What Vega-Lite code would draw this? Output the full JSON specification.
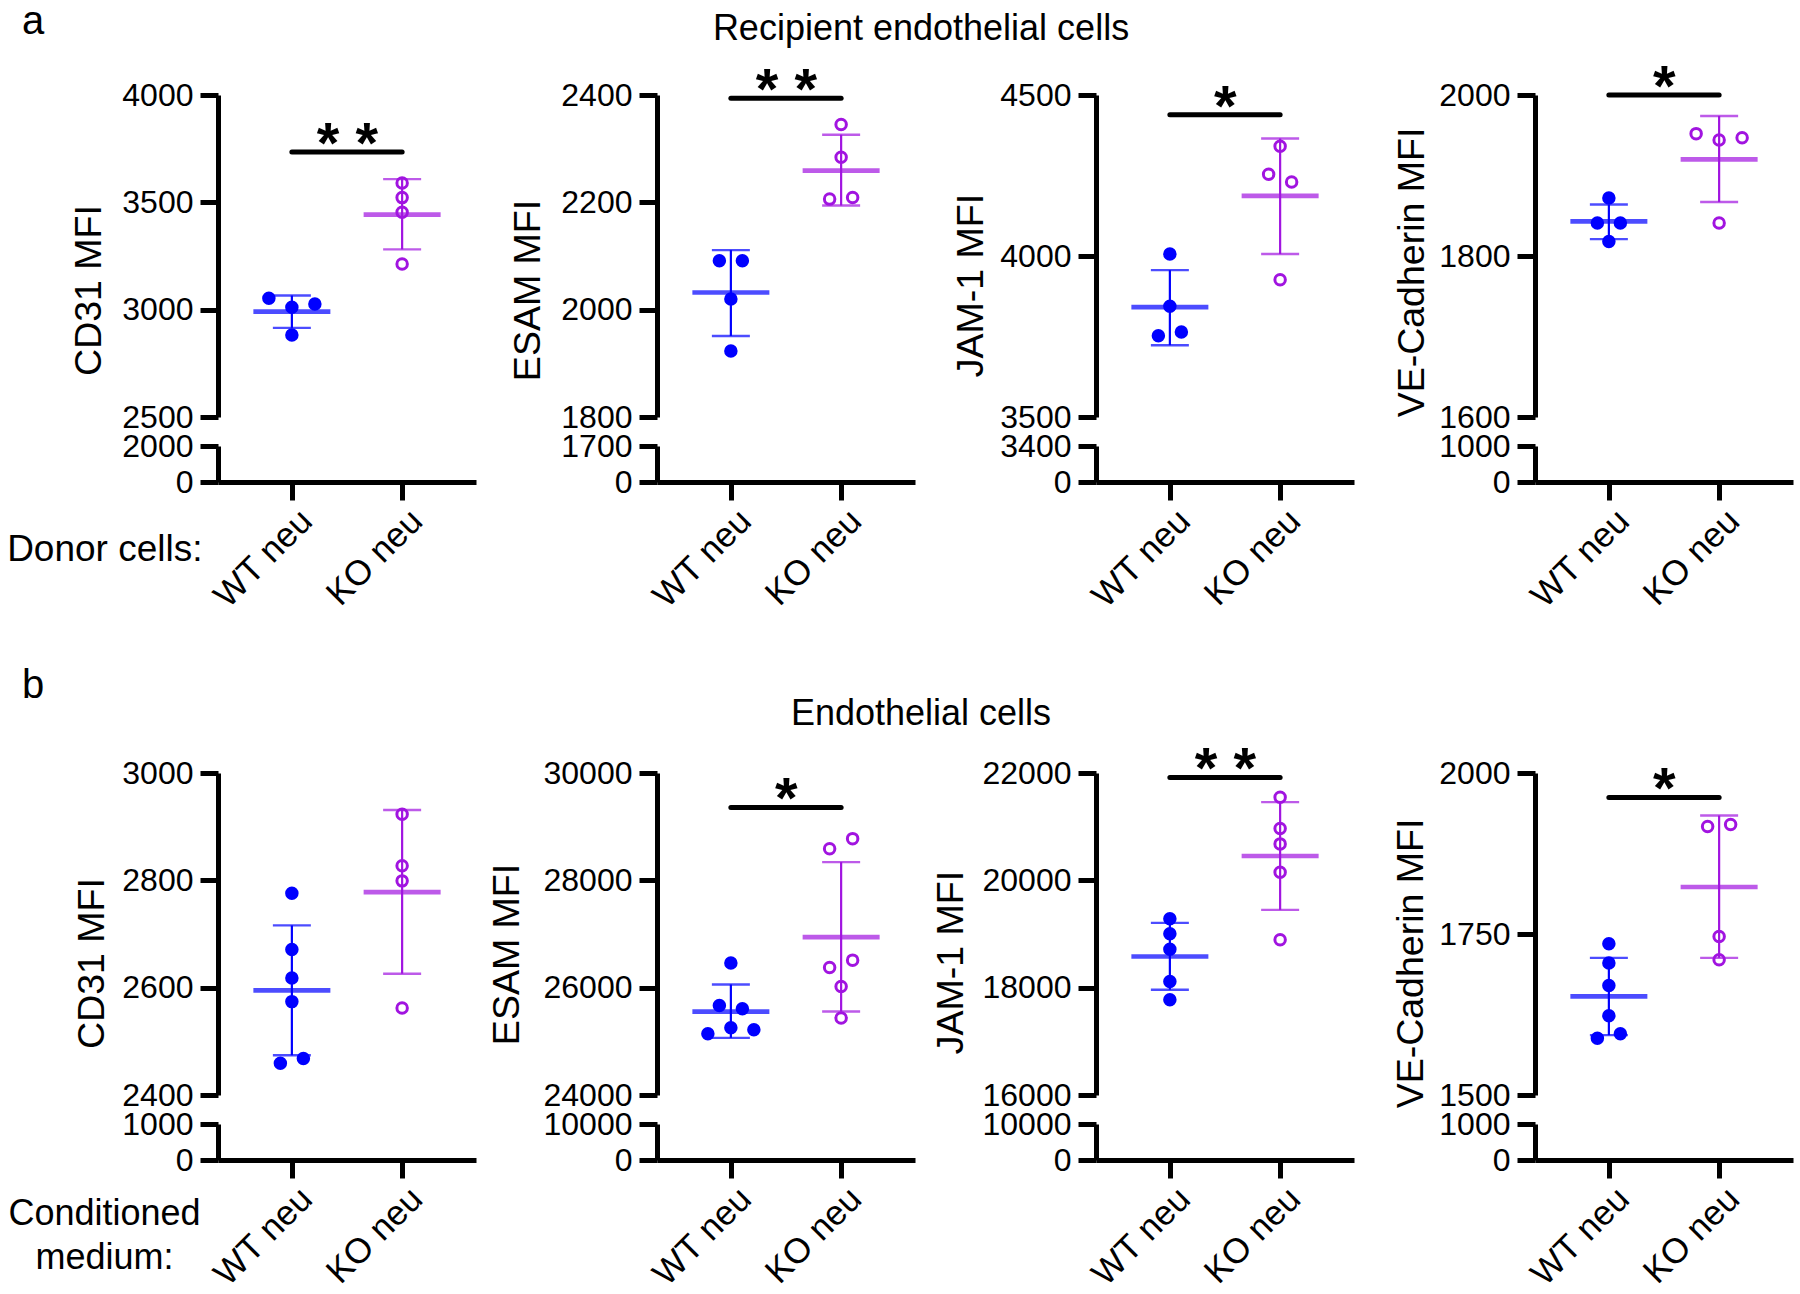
{
"$schema":"https://vega.github.io/schema/vega-lite/v6.json",
"autosize":{"type":"none"},
"padding":{"left":218,"top":95,"right":1582,"bottom":1199},
"background":"white",
"datasets":{
"pts":[
{"p":"a1","g":"WT neu","v":3053,"s":-2},{"p":"a1","g":"WT neu","v":3011,"s":0},{"p":"a1","g":"WT neu","v":3026,"s":2},{"p":"a1","g":"WT neu","v":2882,"s":0},
{"p":"a1","g":"KO neu","v":3590,"s":0},{"p":"a1","g":"KO neu","v":3522,"s":0},{"p":"a1","g":"KO neu","v":3454,"s":0},{"p":"a1","g":"KO neu","v":3213,"s":0},
{"p":"a2","g":"WT neu","v":2091,"s":-1},{"p":"a2","g":"WT neu","v":2091,"s":1},{"p":"a2","g":"WT neu","v":2020,"s":0},{"p":"a2","g":"WT neu","v":1923,"s":0},
{"p":"a2","g":"KO neu","v":2345,"s":0},{"p":"a2","g":"KO neu","v":2284,"s":0},{"p":"a2","g":"KO neu","v":2206,"s":-1},{"p":"a2","g":"KO neu","v":2209,"s":1},
{"p":"a3","g":"WT neu","v":4006,"s":0},{"p":"a3","g":"WT neu","v":3844,"s":0},{"p":"a3","g":"WT neu","v":3752,"s":-1},{"p":"a3","g":"WT neu","v":3764,"s":1},
{"p":"a3","g":"KO neu","v":4341,"s":0},{"p":"a3","g":"KO neu","v":4254,"s":-1},{"p":"a3","g":"KO neu","v":4230,"s":1},{"p":"a3","g":"KO neu","v":3926,"s":0},
{"p":"a4","g":"WT neu","v":1872,"s":0},{"p":"a4","g":"WT neu","v":1841,"s":-1},{"p":"a4","g":"WT neu","v":1841,"s":1},{"p":"a4","g":"WT neu","v":1818,"s":0},
{"p":"a4","g":"KO neu","v":1952,"s":-2},{"p":"a4","g":"KO neu","v":1944,"s":0},{"p":"a4","g":"KO neu","v":1947,"s":2},{"p":"a4","g":"KO neu","v":1841,"s":0},
{"p":"b1","g":"WT neu","v":2776,"s":0},{"p":"b1","g":"WT neu","v":2671,"s":0},{"p":"b1","g":"WT neu","v":2618,"s":0},{"p":"b1","g":"WT neu","v":2574,"s":0},{"p":"b1","g":"WT neu","v":2459,"s":-1},{"p":"b1","g":"WT neu","v":2468,"s":1},
{"p":"b1","g":"KO neu","v":2923,"s":0},{"p":"b1","g":"KO neu","v":2827,"s":0},{"p":"b1","g":"KO neu","v":2799,"s":0},{"p":"b1","g":"KO neu","v":2562,"s":0},
{"p":"b2","g":"WT neu","v":26460,"s":0},{"p":"b2","g":"WT neu","v":25668,"s":-1},{"p":"b2","g":"WT neu","v":25608,"s":1},{"p":"b2","g":"WT neu","v":25253,"s":0},{"p":"b2","g":"WT neu","v":25140,"s":-2},{"p":"b2","g":"WT neu","v":25215,"s":2},
{"p":"b2","g":"KO neu","v":28589,"s":-1},{"p":"b2","g":"KO neu","v":28777,"s":1},{"p":"b2","g":"KO neu","v":26377,"s":-1},{"p":"b2","g":"KO neu","v":26513,"s":1},{"p":"b2","g":"KO neu","v":26023,"s":0},{"p":"b2","g":"KO neu","v":25434,"s":0},
{"p":"b3","g":"WT neu","v":19283,"s":0},{"p":"b3","g":"WT neu","v":19004,"s":0},{"p":"b3","g":"WT neu","v":18717,"s":0},{"p":"b3","g":"WT neu","v":18113,"s":0},{"p":"b3","g":"WT neu","v":17774,"s":0},
{"p":"b3","g":"KO neu","v":21547,"s":0},{"p":"b3","g":"KO neu","v":20966,"s":0},{"p":"b3","g":"KO neu","v":20679,"s":0},{"p":"b3","g":"KO neu","v":20151,"s":0},{"p":"b3","g":"KO neu","v":18891,"s":0},
{"p":"b4","g":"WT neu","v":1735,"s":0},{"p":"b4","g":"WT neu","v":1705,"s":0},{"p":"b4","g":"WT neu","v":1670,"s":0},{"p":"b4","g":"WT neu","v":1623,"s":0},{"p":"b4","g":"WT neu","v":1588,"s":-1},{"p":"b4","g":"WT neu","v":1595,"s":1},
{"p":"b4","g":"KO neu","v":1917,"s":-1},{"p":"b4","g":"KO neu","v":1920,"s":1},{"p":"b4","g":"KO neu","v":1746,"s":0},{"p":"b4","g":"KO neu","v":1710,"s":0}
],
"sum":[
{"p":"a1","g":"WT neu","m":2991,"lo":2915,"hi":3066},{"p":"a1","g":"KO neu","m":3443,"lo":3281,"hi":3608},
{"p":"a2","g":"WT neu","m":2032,"lo":1951,"hi":2111},{"p":"a2","g":"KO neu","m":2259,"lo":2194,"hi":2326},
{"p":"a3","g":"WT neu","m":3841,"lo":3723,"hi":3956},{"p":"a3","g":"KO neu","m":4187,"lo":4006,"hi":4365},
{"p":"a4","g":"WT neu","m":1843,"lo":1821,"hi":1864},{"p":"a4","g":"KO neu","m":1920,"lo":1867,"hi":1974},
{"p":"b1","g":"WT neu","m":2595,"lo":2474,"hi":2716},{"p":"b1","g":"KO neu","m":2778,"lo":2626,"hi":2931},
{"p":"b2","g":"WT neu","m":25555,"lo":25064,"hi":26060},{"p":"b2","g":"KO neu","m":26943,"lo":25555,"hi":28340},
{"p":"b3","g":"WT neu","m":18581,"lo":17962,"hi":19208},{"p":"b3","g":"KO neu","m":20453,"lo":19449,"hi":21457},
{"p":"b4","g":"WT neu","m":1653,"lo":1593,"hi":1713},{"p":"b4","g":"KO neu","m":1823,"lo":1713,"hi":1934}
],
"sig":[
{"p":"a1","v":3734,"t":"* *"},{"p":"a2","v":2394,"t":"* *"},{"p":"a3","v":4439,"t":"*"},{"p":"a4","v":2000,"t":"*"},
{"p":"b2","v":29359,"t":"*"},{"p":"b3","v":21917,"t":"* *"},{"p":"b4","v":1962,"t":"*"}
]
},
"concat":[
  {"width":258,"height":322,
   "title":{"text":"a","anchor":"start","frame":"group","dx":-196,"fontSize":40,"baseline":"alphabetic","align":"left","offset":5},
   "layer":[
   {"data":{"name":"sum"},"transform":[{"filter":"datum.p==='a1'"}],"mark":{"type":"rule","strokeWidth":2.2},
    "encoding":{"x":{"field":"g","type":"nominal","scale":{"type":"point","domain":["WT neu","KO neu"],"padding":0.67},"axis":null},
     "y":{"field":"lo","type":"quantitative","scale":{"domain":[2500,4000],"nice":false,"zero":false},"axis":{"values":[2500,3000,3500,4000],"format":"d","title":"CD31 MFI","titleX":-118,"titleY":195}},
     "y2":{"field":"hi"},
     "color":{"field":"g","type":"nominal","scale":{"domain":["WT neu","KO neu"],"range":["#0000ff","#a114e0"]},"legend":null}}},
   {"data":{"name":"sum"},"transform":[{"filter":"datum.p==='a1'"}],"mark":{"type":"tick","thickness":2.4,"size":38},
    "encoding":{"x":{"field":"g","type":"nominal"},"y":{"field":"lo","type":"quantitative"},"color":{"field":"g","type":"nominal"}}},
   {"data":{"name":"sum"},"transform":[{"filter":"datum.p==='a1'"}],"mark":{"type":"tick","thickness":2.4,"size":38},
    "encoding":{"x":{"field":"g","type":"nominal"},"y":{"field":"hi","type":"quantitative"},"color":{"field":"g","type":"nominal"}}},
   {"data":{"name":"sum"},"transform":[{"filter":"datum.p==='a1'"}],"mark":{"type":"tick","thickness":4.7,"size":77},
    "encoding":{"x":{"field":"g","type":"nominal"},"y":{"field":"m","type":"quantitative"},"color":{"field":"g","type":"nominal"}}},
   {"data":{"name":"pts"},"transform":[{"filter":"datum.p==='a1'"}],"mark":{"type":"point","shape":"circle","size":110,"strokeWidth":3,"opacity":1},
    "encoding":{"x":{"field":"g","type":"nominal"},"xOffset":{"field":"s","type":"quantitative","scale":{"domain":[-2,2],"range":[-23,23]}},"y":{"field":"v","type":"quantitative"},
     "stroke":{"field":"g","type":"nominal","scale":{"domain":["WT neu","KO neu"],"range":["#0000ff","#a114e0"]},"legend":null},
     "fill":{"field":"g","type":"nominal","scale":{"domain":["WT neu","KO neu"],"range":["#0000ff","transparent"]},"legend":null}}},
   {"data":{"name":"sig"},"transform":[{"filter":"datum.p==='a1'"}],"mark":{"type":"rule","strokeWidth":5,"strokeCap":"round","color":"black"},
    "encoding":{"x":{"datum":"WT neu","type":"nominal"},"x2":{"datum":"KO neu"},"y":{"field":"v","type":"quantitative"}}},
   {"data":{"name":"sig"},"transform":[{"filter":"datum.p==='a1'"}],"mark":{"type":"text","fontSize":58,"fontWeight":"bold","dx":55.5,"dy":11,"baseline":"alphabetic","align":"center","color":"black"},
    "encoding":{"x":{"datum":"WT neu","type":"nominal"},"y":{"field":"v","type":"quantitative"},"text":{"field":"t"}}}
  ]},
  {"width":258,"height":322,
   "title":{"text":"Recipient endothelial cells","anchor":"middle","frame":"group","dx":135,"fontSize":36,"baseline":"alphabetic","offset":-13},
   "layer":[
   {"data":{"name":"sum"},"transform":[{"filter":"datum.p==='a2'"}],"mark":{"type":"rule","strokeWidth":2.2},
    "encoding":{"x":{"field":"g","type":"nominal","scale":{"type":"point","domain":["WT neu","KO neu"],"padding":0.67},"axis":null},
     "y":{"field":"lo","type":"quantitative","scale":{"domain":[1800,2400],"nice":false,"zero":false},"axis":{"values":[1800,2000,2200,2400],"format":"d","title":"ESAM MFI","titleX":-118,"titleY":195}},
     "y2":{"field":"hi"},
     "color":{"field":"g","type":"nominal","scale":{"domain":["WT neu","KO neu"],"range":["#0000ff","#a114e0"]},"legend":null}}},
   {"data":{"name":"sum"},"transform":[{"filter":"datum.p==='a2'"}],"mark":{"type":"tick","thickness":2.4,"size":38},
    "encoding":{"x":{"field":"g","type":"nominal"},"y":{"field":"lo","type":"quantitative"},"color":{"field":"g","type":"nominal"}}},
   {"data":{"name":"sum"},"transform":[{"filter":"datum.p==='a2'"}],"mark":{"type":"tick","thickness":2.4,"size":38},
    "encoding":{"x":{"field":"g","type":"nominal"},"y":{"field":"hi","type":"quantitative"},"color":{"field":"g","type":"nominal"}}},
   {"data":{"name":"sum"},"transform":[{"filter":"datum.p==='a2'"}],"mark":{"type":"tick","thickness":4.7,"size":77},
    "encoding":{"x":{"field":"g","type":"nominal"},"y":{"field":"m","type":"quantitative"},"color":{"field":"g","type":"nominal"}}},
   {"data":{"name":"pts"},"transform":[{"filter":"datum.p==='a2'"}],"mark":{"type":"point","shape":"circle","size":110,"strokeWidth":3,"opacity":1},
    "encoding":{"x":{"field":"g","type":"nominal"},"xOffset":{"field":"s","type":"quantitative","scale":{"domain":[-2,2],"range":[-23,23]}},"y":{"field":"v","type":"quantitative"},
     "stroke":{"field":"g","type":"nominal","scale":{"domain":["WT neu","KO neu"],"range":["#0000ff","#a114e0"]},"legend":null},
     "fill":{"field":"g","type":"nominal","scale":{"domain":["WT neu","KO neu"],"range":["#0000ff","transparent"]},"legend":null}}},
   {"data":{"name":"sig"},"transform":[{"filter":"datum.p==='a2'"}],"mark":{"type":"rule","strokeWidth":5,"strokeCap":"round","color":"black"},
    "encoding":{"x":{"datum":"WT neu","type":"nominal"},"x2":{"datum":"KO neu"},"y":{"field":"v","type":"quantitative"}}},
   {"data":{"name":"sig"},"transform":[{"filter":"datum.p==='a2'"}],"mark":{"type":"text","fontSize":58,"fontWeight":"bold","dx":55.5,"dy":11,"baseline":"alphabetic","align":"center","color":"black"},
    "encoding":{"x":{"datum":"WT neu","type":"nominal"},"y":{"field":"v","type":"quantitative"},"text":{"field":"t"}}}
  ]},
  {"width":258,"height":322,"layer":[
   {"data":{"name":"sum"},"transform":[{"filter":"datum.p==='a3'"}],"mark":{"type":"rule","strokeWidth":2.2},
    "encoding":{"x":{"field":"g","type":"nominal","scale":{"type":"point","domain":["WT neu","KO neu"],"padding":0.67},"axis":null},
     "y":{"field":"lo","type":"quantitative","scale":{"domain":[3500,4500],"nice":false,"zero":false},"axis":{"values":[3500,4000,4500],"format":"d","title":"JAM-1 MFI","titleX":-114,"titleY":190}},
     "y2":{"field":"hi"},
     "color":{"field":"g","type":"nominal","scale":{"domain":["WT neu","KO neu"],"range":["#0000ff","#a114e0"]},"legend":null}}},
   {"data":{"name":"sum"},"transform":[{"filter":"datum.p==='a3'"}],"mark":{"type":"tick","thickness":2.4,"size":38},
    "encoding":{"x":{"field":"g","type":"nominal"},"y":{"field":"lo","type":"quantitative"},"color":{"field":"g","type":"nominal"}}},
   {"data":{"name":"sum"},"transform":[{"filter":"datum.p==='a3'"}],"mark":{"type":"tick","thickness":2.4,"size":38},
    "encoding":{"x":{"field":"g","type":"nominal"},"y":{"field":"hi","type":"quantitative"},"color":{"field":"g","type":"nominal"}}},
   {"data":{"name":"sum"},"transform":[{"filter":"datum.p==='a3'"}],"mark":{"type":"tick","thickness":4.7,"size":77},
    "encoding":{"x":{"field":"g","type":"nominal"},"y":{"field":"m","type":"quantitative"},"color":{"field":"g","type":"nominal"}}},
   {"data":{"name":"pts"},"transform":[{"filter":"datum.p==='a3'"}],"mark":{"type":"point","shape":"circle","size":110,"strokeWidth":3,"opacity":1},
    "encoding":{"x":{"field":"g","type":"nominal"},"xOffset":{"field":"s","type":"quantitative","scale":{"domain":[-2,2],"range":[-23,23]}},"y":{"field":"v","type":"quantitative"},
     "stroke":{"field":"g","type":"nominal","scale":{"domain":["WT neu","KO neu"],"range":["#0000ff","#a114e0"]},"legend":null},
     "fill":{"field":"g","type":"nominal","scale":{"domain":["WT neu","KO neu"],"range":["#0000ff","transparent"]},"legend":null}}},
   {"data":{"name":"sig"},"transform":[{"filter":"datum.p==='a3'"}],"mark":{"type":"rule","strokeWidth":5,"strokeCap":"round","color":"black"},
    "encoding":{"x":{"datum":"WT neu","type":"nominal"},"x2":{"datum":"KO neu"},"y":{"field":"v","type":"quantitative"}}},
   {"data":{"name":"sig"},"transform":[{"filter":"datum.p==='a3'"}],"mark":{"type":"text","fontSize":58,"fontWeight":"bold","dx":55.5,"dy":11,"baseline":"alphabetic","align":"center","color":"black"},
    "encoding":{"x":{"datum":"WT neu","type":"nominal"},"y":{"field":"v","type":"quantitative"},"text":{"field":"t"}}}
  ]},
  {"width":258,"height":322,"layer":[
   {"data":{"name":"sum"},"transform":[{"filter":"datum.p==='a4'"}],"mark":{"type":"rule","strokeWidth":2.2},
    "encoding":{"x":{"field":"g","type":"nominal","scale":{"type":"point","domain":["WT neu","KO neu"],"padding":0.67},"axis":null},
     "y":{"field":"lo","type":"quantitative","scale":{"domain":[1600,2000],"nice":false,"zero":false},"axis":{"values":[1600,1800,2000],"format":"d","title":"VE-Cadherin MFI","titleX":-112,"titleY":177}},
     "y2":{"field":"hi"},
     "color":{"field":"g","type":"nominal","scale":{"domain":["WT neu","KO neu"],"range":["#0000ff","#a114e0"]},"legend":null}}},
   {"data":{"name":"sum"},"transform":[{"filter":"datum.p==='a4'"}],"mark":{"type":"tick","thickness":2.4,"size":38},
    "encoding":{"x":{"field":"g","type":"nominal"},"y":{"field":"lo","type":"quantitative"},"color":{"field":"g","type":"nominal"}}},
   {"data":{"name":"sum"},"transform":[{"filter":"datum.p==='a4'"}],"mark":{"type":"tick","thickness":2.4,"size":38},
    "encoding":{"x":{"field":"g","type":"nominal"},"y":{"field":"hi","type":"quantitative"},"color":{"field":"g","type":"nominal"}}},
   {"data":{"name":"sum"},"transform":[{"filter":"datum.p==='a4'"}],"mark":{"type":"tick","thickness":4.7,"size":77},
    "encoding":{"x":{"field":"g","type":"nominal"},"y":{"field":"m","type":"quantitative"},"color":{"field":"g","type":"nominal"}}},
   {"data":{"name":"pts"},"transform":[{"filter":"datum.p==='a4'"}],"mark":{"type":"point","shape":"circle","size":110,"strokeWidth":3,"opacity":1},
    "encoding":{"x":{"field":"g","type":"nominal"},"xOffset":{"field":"s","type":"quantitative","scale":{"domain":[-2,2],"range":[-23,23]}},"y":{"field":"v","type":"quantitative"},
     "stroke":{"field":"g","type":"nominal","scale":{"domain":["WT neu","KO neu"],"range":["#0000ff","#a114e0"]},"legend":null},
     "fill":{"field":"g","type":"nominal","scale":{"domain":["WT neu","KO neu"],"range":["#0000ff","transparent"]},"legend":null}}},
   {"data":{"name":"sig"},"transform":[{"filter":"datum.p==='a4'"}],"mark":{"type":"rule","strokeWidth":5,"strokeCap":"round","color":"black"},
    "encoding":{"x":{"datum":"WT neu","type":"nominal"},"x2":{"datum":"KO neu"},"y":{"field":"v","type":"quantitative"}}},
   {"data":{"name":"sig"},"transform":[{"filter":"datum.p==='a4'"}],"mark":{"type":"text","fontSize":58,"fontWeight":"bold","dx":55.5,"dy":11,"baseline":"alphabetic","align":"center","color":"black"},
    "encoding":{"x":{"datum":"WT neu","type":"nominal"},"y":{"field":"v","type":"quantitative"},"text":{"field":"t"}}}
  ]},
  {"width":258,"height":36,"data":{"name":"sum"},"transform":[{"filter":"datum.p==='a1'"}],"mark":{"type":"point","opacity":0},
   "encoding":{"x":{"field":"g","type":"nominal","scale":{"type":"point","domain":["WT neu","KO neu"],"padding":0.67},
     "axis":{"labelAngle":-45,"labelAlign":"right","labelBaseline":"middle","labelOffset":14,"labelPadding":15,"labelFontSize":35,"title":"Donor cells:","titleX":-16,"titleY":78,"titleAlign":"right","titleAngle":0,"titleBaseline":"alphabetic","titleFontSize":37}},
    "y":{"datum":0,"type":"quantitative","scale":{"domain":[0,2000],"nice":false,"zero":false},"axis":{"values":[0,2000],"format":"d","title":null}}}},
  {"width":258,"height":36,"data":{"name":"sum"},"transform":[{"filter":"datum.p==='a2'"}],"mark":{"type":"point","opacity":0},
   "encoding":{"x":{"field":"g","type":"nominal","scale":{"type":"point","domain":["WT neu","KO neu"],"padding":0.67},
     "axis":{"labelAngle":-45,"labelAlign":"right","labelBaseline":"middle","labelOffset":14,"labelPadding":15,"labelFontSize":35,"title":null}},
    "y":{"datum":0,"type":"quantitative","scale":{"domain":[0,1700],"nice":false,"zero":false},"axis":{"values":[0,1700],"format":"d","title":null}}}},
  {"width":258,"height":36,"data":{"name":"sum"},"transform":[{"filter":"datum.p==='a3'"}],"mark":{"type":"point","opacity":0},
   "encoding":{"x":{"field":"g","type":"nominal","scale":{"type":"point","domain":["WT neu","KO neu"],"padding":0.67},
     "axis":{"labelAngle":-45,"labelAlign":"right","labelBaseline":"middle","labelOffset":14,"labelPadding":15,"labelFontSize":35,"title":null}},
    "y":{"datum":0,"type":"quantitative","scale":{"domain":[0,3400],"nice":false,"zero":false},"axis":{"values":[0,3400],"format":"d","title":null}}}},
  {"width":258,"height":36,"data":{"name":"sum"},"transform":[{"filter":"datum.p==='a4'"}],"mark":{"type":"point","opacity":0},
   "encoding":{"x":{"field":"g","type":"nominal","scale":{"type":"point","domain":["WT neu","KO neu"],"padding":0.67},
     "axis":{"labelAngle":-45,"labelAlign":"right","labelBaseline":"middle","labelOffset":14,"labelPadding":15,"labelFontSize":35,"title":null}},
    "y":{"datum":0,"type":"quantitative","scale":{"domain":[0,1000],"nice":false,"zero":false},"axis":{"values":[0,1000],"format":"d","title":null}}}},
  {"width":258,"height":233,"data":{"name":"sig"},"transform":[{"filter":"false"}],"mark":{"type":"point","opacity":0}},
  {"width":258,"height":233,"data":{"name":"sig"},"transform":[{"filter":"false"}],"mark":{"type":"point","opacity":0}},
  {"width":258,"height":233,"data":{"name":"sig"},"transform":[{"filter":"false"}],"mark":{"type":"point","opacity":0}},
  {"width":258,"height":233,"data":{"name":"sig"},"transform":[{"filter":"false"}],"mark":{"type":"point","opacity":0}},
  {"width":258,"height":322,
   "title":{"text":"b","anchor":"start","frame":"group","dx":-196,"fontSize":40,"baseline":"alphabetic","align":"left","offset":19},
   "layer":[
   {"data":{"name":"sum"},"transform":[{"filter":"datum.p==='b1'"}],"mark":{"type":"rule","strokeWidth":2.2},
    "encoding":{"x":{"field":"g","type":"nominal","scale":{"type":"point","domain":["WT neu","KO neu"],"padding":0.67},"axis":null},
     "y":{"field":"lo","type":"quantitative","scale":{"domain":[2400,3000],"nice":false,"zero":false},"axis":{"values":[2400,2600,2800,3000],"format":"d","title":"CD31 MFI","titleX":-115,"titleY":190}},
     "y2":{"field":"hi"},
     "color":{"field":"g","type":"nominal","scale":{"domain":["WT neu","KO neu"],"range":["#0000ff","#a114e0"]},"legend":null}}},
   {"data":{"name":"sum"},"transform":[{"filter":"datum.p==='b1'"}],"mark":{"type":"tick","thickness":2.4,"size":38},
    "encoding":{"x":{"field":"g","type":"nominal"},"y":{"field":"lo","type":"quantitative"},"color":{"field":"g","type":"nominal"}}},
   {"data":{"name":"sum"},"transform":[{"filter":"datum.p==='b1'"}],"mark":{"type":"tick","thickness":2.4,"size":38},
    "encoding":{"x":{"field":"g","type":"nominal"},"y":{"field":"hi","type":"quantitative"},"color":{"field":"g","type":"nominal"}}},
   {"data":{"name":"sum"},"transform":[{"filter":"datum.p==='b1'"}],"mark":{"type":"tick","thickness":4.7,"size":77},
    "encoding":{"x":{"field":"g","type":"nominal"},"y":{"field":"m","type":"quantitative"},"color":{"field":"g","type":"nominal"}}},
   {"data":{"name":"pts"},"transform":[{"filter":"datum.p==='b1'"}],"mark":{"type":"point","shape":"circle","size":110,"strokeWidth":3,"opacity":1},
    "encoding":{"x":{"field":"g","type":"nominal"},"xOffset":{"field":"s","type":"quantitative","scale":{"domain":[-2,2],"range":[-23,23]}},"y":{"field":"v","type":"quantitative"},
     "stroke":{"field":"g","type":"nominal","scale":{"domain":["WT neu","KO neu"],"range":["#0000ff","#a114e0"]},"legend":null},
     "fill":{"field":"g","type":"nominal","scale":{"domain":["WT neu","KO neu"],"range":["#0000ff","transparent"]},"legend":null}}}
  ]},
  {"width":258,"height":322,
   "title":{"text":"Endothelial cells","anchor":"middle","frame":"group","dx":135,"fontSize":36,"baseline":"alphabetic","offset":-4},
   "layer":[
   {"data":{"name":"sum"},"transform":[{"filter":"datum.p==='b2'"}],"mark":{"type":"rule","strokeWidth":2.2},
    "encoding":{"x":{"field":"g","type":"nominal","scale":{"type":"point","domain":["WT neu","KO neu"],"padding":0.67},"axis":null},
     "y":{"field":"lo","type":"quantitative","scale":{"domain":[24000,30000],"nice":false,"zero":false},"axis":{"values":[24000,26000,28000,30000],"format":"d","title":"ESAM MFI","titleX":-139,"titleY":181}},
     "y2":{"field":"hi"},
     "color":{"field":"g","type":"nominal","scale":{"domain":["WT neu","KO neu"],"range":["#0000ff","#a114e0"]},"legend":null}}},
   {"data":{"name":"sum"},"transform":[{"filter":"datum.p==='b2'"}],"mark":{"type":"tick","thickness":2.4,"size":38},
    "encoding":{"x":{"field":"g","type":"nominal"},"y":{"field":"lo","type":"quantitative"},"color":{"field":"g","type":"nominal"}}},
   {"data":{"name":"sum"},"transform":[{"filter":"datum.p==='b2'"}],"mark":{"type":"tick","thickness":2.4,"size":38},
    "encoding":{"x":{"field":"g","type":"nominal"},"y":{"field":"hi","type":"quantitative"},"color":{"field":"g","type":"nominal"}}},
   {"data":{"name":"sum"},"transform":[{"filter":"datum.p==='b2'"}],"mark":{"type":"tick","thickness":4.7,"size":77},
    "encoding":{"x":{"field":"g","type":"nominal"},"y":{"field":"m","type":"quantitative"},"color":{"field":"g","type":"nominal"}}},
   {"data":{"name":"pts"},"transform":[{"filter":"datum.p==='b2'"}],"mark":{"type":"point","shape":"circle","size":110,"strokeWidth":3,"opacity":1},
    "encoding":{"x":{"field":"g","type":"nominal"},"xOffset":{"field":"s","type":"quantitative","scale":{"domain":[-2,2],"range":[-23,23]}},"y":{"field":"v","type":"quantitative"},
     "stroke":{"field":"g","type":"nominal","scale":{"domain":["WT neu","KO neu"],"range":["#0000ff","#a114e0"]},"legend":null},
     "fill":{"field":"g","type":"nominal","scale":{"domain":["WT neu","KO neu"],"range":["#0000ff","transparent"]},"legend":null}}},
   {"data":{"name":"sig"},"transform":[{"filter":"datum.p==='b2'"}],"mark":{"type":"rule","strokeWidth":5,"strokeCap":"round","color":"black"},
    "encoding":{"x":{"datum":"WT neu","type":"nominal"},"x2":{"datum":"KO neu"},"y":{"field":"v","type":"quantitative"}}},
   {"data":{"name":"sig"},"transform":[{"filter":"datum.p==='b2'"}],"mark":{"type":"text","fontSize":58,"fontWeight":"bold","dx":55.5,"dy":11,"baseline":"alphabetic","align":"center","color":"black"},
    "encoding":{"x":{"datum":"WT neu","type":"nominal"},"y":{"field":"v","type":"quantitative"},"text":{"field":"t"}}}
  ]},
  {"width":258,"height":322,"layer":[
   {"data":{"name":"sum"},"transform":[{"filter":"datum.p==='b3'"}],"mark":{"type":"rule","strokeWidth":2.2},
    "encoding":{"x":{"field":"g","type":"nominal","scale":{"type":"point","domain":["WT neu","KO neu"],"padding":0.67},"axis":null},
     "y":{"field":"lo","type":"quantitative","scale":{"domain":[16000,22000],"nice":false,"zero":false},"axis":{"values":[16000,18000,20000,22000],"format":"d","title":"JAM-1 MFI","titleX":-134,"titleY":189}},
     "y2":{"field":"hi"},
     "color":{"field":"g","type":"nominal","scale":{"domain":["WT neu","KO neu"],"range":["#0000ff","#a114e0"]},"legend":null}}},
   {"data":{"name":"sum"},"transform":[{"filter":"datum.p==='b3'"}],"mark":{"type":"tick","thickness":2.4,"size":38},
    "encoding":{"x":{"field":"g","type":"nominal"},"y":{"field":"lo","type":"quantitative"},"color":{"field":"g","type":"nominal"}}},
   {"data":{"name":"sum"},"transform":[{"filter":"datum.p==='b3'"}],"mark":{"type":"tick","thickness":2.4,"size":38},
    "encoding":{"x":{"field":"g","type":"nominal"},"y":{"field":"hi","type":"quantitative"},"color":{"field":"g","type":"nominal"}}},
   {"data":{"name":"sum"},"transform":[{"filter":"datum.p==='b3'"}],"mark":{"type":"tick","thickness":4.7,"size":77},
    "encoding":{"x":{"field":"g","type":"nominal"},"y":{"field":"m","type":"quantitative"},"color":{"field":"g","type":"nominal"}}},
   {"data":{"name":"pts"},"transform":[{"filter":"datum.p==='b3'"}],"mark":{"type":"point","shape":"circle","size":110,"strokeWidth":3,"opacity":1},
    "encoding":{"x":{"field":"g","type":"nominal"},"xOffset":{"field":"s","type":"quantitative","scale":{"domain":[-2,2],"range":[-23,23]}},"y":{"field":"v","type":"quantitative"},
     "stroke":{"field":"g","type":"nominal","scale":{"domain":["WT neu","KO neu"],"range":["#0000ff","#a114e0"]},"legend":null},
     "fill":{"field":"g","type":"nominal","scale":{"domain":["WT neu","KO neu"],"range":["#0000ff","transparent"]},"legend":null}}},
   {"data":{"name":"sig"},"transform":[{"filter":"datum.p==='b3'"}],"mark":{"type":"rule","strokeWidth":5,"strokeCap":"round","color":"black"},
    "encoding":{"x":{"datum":"WT neu","type":"nominal"},"x2":{"datum":"KO neu"},"y":{"field":"v","type":"quantitative"}}},
   {"data":{"name":"sig"},"transform":[{"filter":"datum.p==='b3'"}],"mark":{"type":"text","fontSize":58,"fontWeight":"bold","dx":55.5,"dy":11,"baseline":"alphabetic","align":"center","color":"black"},
    "encoding":{"x":{"datum":"WT neu","type":"nominal"},"y":{"field":"v","type":"quantitative"},"text":{"field":"t"}}}
  ]},
  {"width":258,"height":322,"layer":[
   {"data":{"name":"sum"},"transform":[{"filter":"datum.p==='b4'"}],"mark":{"type":"rule","strokeWidth":2.2},
    "encoding":{"x":{"field":"g","type":"nominal","scale":{"type":"point","domain":["WT neu","KO neu"],"padding":0.67},"axis":null},
     "y":{"field":"lo","type":"quantitative","scale":{"domain":[1500,2000],"nice":false,"zero":false},"axis":{"values":[1500,1750,2000],"format":"d","title":"VE-Cadherin MFI","titleX":-113,"titleY":190}},
     "y2":{"field":"hi"},
     "color":{"field":"g","type":"nominal","scale":{"domain":["WT neu","KO neu"],"range":["#0000ff","#a114e0"]},"legend":null}}},
   {"data":{"name":"sum"},"transform":[{"filter":"datum.p==='b4'"}],"mark":{"type":"tick","thickness":2.4,"size":38},
    "encoding":{"x":{"field":"g","type":"nominal"},"y":{"field":"lo","type":"quantitative"},"color":{"field":"g","type":"nominal"}}},
   {"data":{"name":"sum"},"transform":[{"filter":"datum.p==='b4'"}],"mark":{"type":"tick","thickness":2.4,"size":38},
    "encoding":{"x":{"field":"g","type":"nominal"},"y":{"field":"hi","type":"quantitative"},"color":{"field":"g","type":"nominal"}}},
   {"data":{"name":"sum"},"transform":[{"filter":"datum.p==='b4'"}],"mark":{"type":"tick","thickness":4.7,"size":77},
    "encoding":{"x":{"field":"g","type":"nominal"},"y":{"field":"m","type":"quantitative"},"color":{"field":"g","type":"nominal"}}},
   {"data":{"name":"pts"},"transform":[{"filter":"datum.p==='b4'"}],"mark":{"type":"point","shape":"circle","size":110,"strokeWidth":3,"opacity":1},
    "encoding":{"x":{"field":"g","type":"nominal"},"xOffset":{"field":"s","type":"quantitative","scale":{"domain":[-2,2],"range":[-23,23]}},"y":{"field":"v","type":"quantitative"},
     "stroke":{"field":"g","type":"nominal","scale":{"domain":["WT neu","KO neu"],"range":["#0000ff","#a114e0"]},"legend":null},
     "fill":{"field":"g","type":"nominal","scale":{"domain":["WT neu","KO neu"],"range":["#0000ff","transparent"]},"legend":null}}},
   {"data":{"name":"sig"},"transform":[{"filter":"datum.p==='b4'"}],"mark":{"type":"rule","strokeWidth":5,"strokeCap":"round","color":"black"},
    "encoding":{"x":{"datum":"WT neu","type":"nominal"},"x2":{"datum":"KO neu"},"y":{"field":"v","type":"quantitative"}}},
   {"data":{"name":"sig"},"transform":[{"filter":"datum.p==='b4'"}],"mark":{"type":"text","fontSize":58,"fontWeight":"bold","dx":55.5,"dy":11,"baseline":"alphabetic","align":"center","color":"black"},
    "encoding":{"x":{"datum":"WT neu","type":"nominal"},"y":{"field":"v","type":"quantitative"},"text":{"field":"t"}}}
  ]},
  {"width":258,"height":36,"data":{"name":"sum"},"transform":[{"filter":"datum.p==='b1'"}],"mark":{"type":"point","opacity":0},
   "encoding":{"x":{"field":"g","type":"nominal","scale":{"type":"point","domain":["WT neu","KO neu"],"padding":0.67},
     "axis":{"labelAngle":-45,"labelAlign":"right","labelBaseline":"middle","labelOffset":14,"labelPadding":15,"labelFontSize":35,"title":["Conditioned","medium:"],"titleX":-114,"titleY":64,"titleAlign":"center","titleAngle":0,"titleBaseline":"alphabetic","titleFontSize":36,"titleLineHeight":44}},
    "y":{"datum":0,"type":"quantitative","scale":{"domain":[0,1000],"nice":false,"zero":false},"axis":{"values":[0,1000],"format":"d","title":null}}}},
  {"width":258,"height":36,"data":{"name":"sum"},"transform":[{"filter":"datum.p==='b2'"}],"mark":{"type":"point","opacity":0},
   "encoding":{"x":{"field":"g","type":"nominal","scale":{"type":"point","domain":["WT neu","KO neu"],"padding":0.67},
     "axis":{"labelAngle":-45,"labelAlign":"right","labelBaseline":"middle","labelOffset":14,"labelPadding":15,"labelFontSize":35,"title":null}},
    "y":{"datum":0,"type":"quantitative","scale":{"domain":[0,10000],"nice":false,"zero":false},"axis":{"values":[0,10000],"format":"d","title":null}}}},
  {"width":258,"height":36,"data":{"name":"sum"},"transform":[{"filter":"datum.p==='b3'"}],"mark":{"type":"point","opacity":0},
   "encoding":{"x":{"field":"g","type":"nominal","scale":{"type":"point","domain":["WT neu","KO neu"],"padding":0.67},
     "axis":{"labelAngle":-45,"labelAlign":"right","labelBaseline":"middle","labelOffset":14,"labelPadding":15,"labelFontSize":35,"title":null}},
    "y":{"datum":0,"type":"quantitative","scale":{"domain":[0,10000],"nice":false,"zero":false},"axis":{"values":[0,10000],"format":"d","title":null}}}},
  {"width":258,"height":36,"data":{"name":"sum"},"transform":[{"filter":"datum.p==='b4'"}],"mark":{"type":"point","opacity":0},
   "encoding":{"x":{"field":"g","type":"nominal","scale":{"type":"point","domain":["WT neu","KO neu"],"padding":0.67},
     "axis":{"labelAngle":-45,"labelAlign":"right","labelBaseline":"middle","labelOffset":14,"labelPadding":15,"labelFontSize":35,"title":null}},
    "y":{"datum":0,"type":"quantitative","scale":{"domain":[0,1000],"nice":false,"zero":false},"axis":{"values":[0,1000],"format":"d","title":null}}}}
],
"columns":4,
"spacing":{"row":29,"column":181},
"bounds":"flush",
"config":{
 "view":{"stroke":null},
 "font":"Liberation Sans",
 "axis":{"domainColor":"black","domainWidth":5,"tickColor":"black","tickWidth":5,"tickSize":18,"labelColor":"black","labelFont":"Liberation Sans","labelFontSize":32,"labelPadding":7,"grid":false,"titleColor":"black","titleFont":"Liberation Sans","titleFontSize":37.5,"titleFontWeight":"normal","titleBaseline":"alphabetic","labelFlush":false,"labelOverlap":false},
 "title":{"color":"black","font":"Liberation Sans","fontWeight":"normal"}
}
}
